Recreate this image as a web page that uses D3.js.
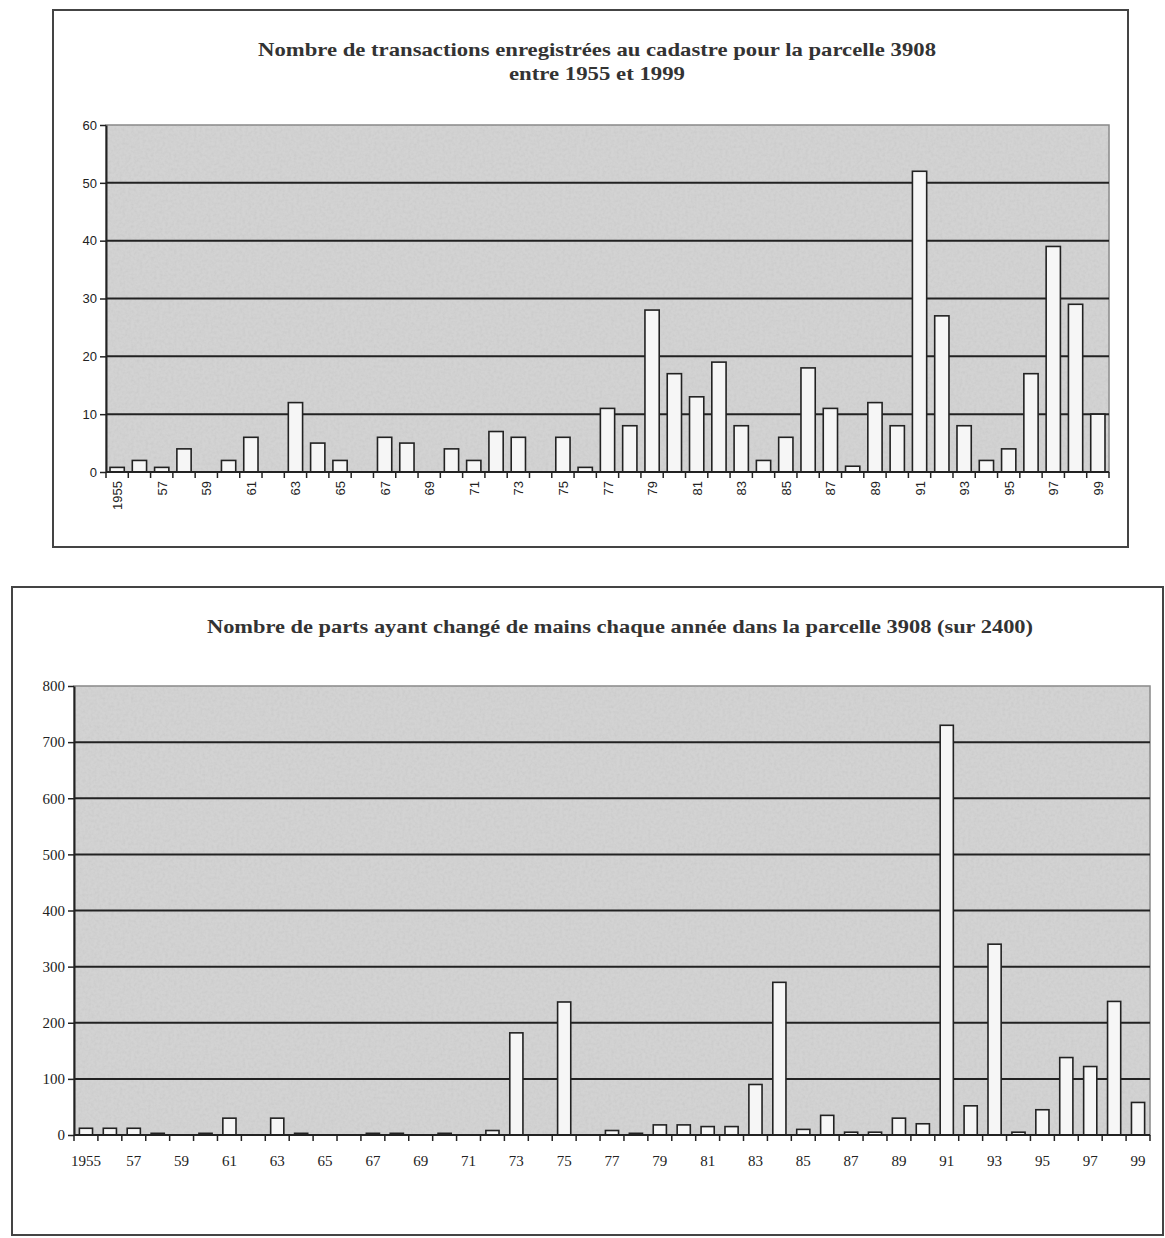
<!DOCTYPE html>
<html>
<head>
<meta charset="utf-8">
<script src="https://cdn.jsdelivr.net/npm/d3@7"></script>
<style>
  body { margin: 0; background: #fff; }
  svg { display: block; }
</style>
</head>
<body>
<div id="chart"></div>
<script>
// years 1955 .. 1999
const years = [1955,1956,1957,1958,1959,1960,1961,1962,1963,1964,1965,1966,1967,1968,1969,
  1970,1971,1972,1973,1974,1975,1976,1977,1978,1979,1980,1981,1982,1983,1984,
  1985,1986,1987,1988,1989,1990,1991,1992,1993,1994,1995,1996,1997,1998,1999];

// nombre de transactions
const transactions = [0.8,2,0.8,4,0,2,6,0,12,5,2,0,6,5,0,
  4,2,7,6,0,6,0.8,11,8,28,17,13,19,8,2,
  6,18,11,1,12,8,52,27,8,2,4,17,39,29,10];

// nombre de parts
const parts = [12,12,12,3,0,3,30,0,30,3,0,0,3,3,0,
  3,0,8,182,0,237,0,8,3,18,18,15,15,90,272,
  10,35,5,5,30,20,730,52,340,5,45,138,122,238,58];

const yTicksTop = [0,10,20,30,40,50,60];
const yTicksBottom = [0,100,200,300,400,500,600,700,800];
const labelYearsTop = ["1955","57","59","61","63","65","67","69","71","73","75","77","79","81","83","85","87","89","91","93","95","97","99"];
const labelYearsBottom = ["1955","57","59","61","63","65","67","69","71","73","75","77","79","81","83","85","87","89","91","93","95","97","99"];

const title1 = ["Nombre de transactions enregistrées au cadastre  pour la parcelle 3908", "entre 1955 et 1999"];
const title2 = "Nombre de parts ayant changé de mains chaque année dans la parcelle 3908 (sur 2400)";

const W = 1165, H = 1238;

const svg = d3.select("#chart").append("svg")
    .attr("width", W)
    .attr("height", H);

// scan-like grain for the plot areas
const defs = svg.append("defs");
const f = defs.append("filter").attr("id", "grain")
    .attr("x", 0).attr("y", 0).attr("width", "100%").attr("height", "100%");
f.append("feTurbulence").attr("type", "fractalNoise")
    .attr("baseFrequency", 0.35).attr("numOctaves", 2).attr("seed", 4);
f.append("feColorMatrix").attr("type", "matrix")
    .attr("values", "0 0 0 0 0.45  0 0 0 0 0.45  0 0 0 0 0.45  0 0 0 -1.1 0.72");

let drawChart = (opt) => {
    const g = svg.append("g");

    // frame
    g.append("rect")
        .attr("x", opt.frame[0]).attr("y", opt.frame[1])
        .attr("width", opt.frame[2]).attr("height", opt.frame[3])
        .attr("fill", "#fff")
        .attr("stroke", "#444")
        .attr("stroke-width", 2);

    const x = d3.scaleBand()
        .domain(years)
        .range([opt.left, opt.right])
        .paddingInner(opt.pad)
        .paddingOuter(opt.pad / 2);

    const y = d3.scaleLinear()
        .domain(opt.yDomain)
        .range([opt.bottom, opt.top]);

    // plot background
    g.append("rect")
        .attr("x", opt.left).attr("y", opt.top)
        .attr("width", opt.right - opt.left).attr("height", opt.bottom - opt.top)
        .attr("fill", "#d3d3d3")
        .attr("stroke", "#888")
        .attr("stroke-width", 1.5);
    g.append("rect")
        .attr("x", opt.left).attr("y", opt.top)
        .attr("width", opt.right - opt.left).attr("height", opt.bottom - opt.top)
        .attr("filter", "url(#grain)")
        .attr("opacity", 0.4);

    // gridlines
    g.selectAll(".grid")
        .data(opt.yTicks.slice(1, -1))
        .enter()
        .append("line")
        .attr("x1", opt.left).attr("x2", opt.right)
        .attr("y1", d => y(d)).attr("y2", d => y(d))
        .attr("stroke", "#222")
        .attr("stroke-width", 2);

    // bars
    g.selectAll(".bar")
        .data(opt.values)
        .enter()
        .append("rect")
        .attr("x", (d, i) => x(years[i]))
        .attr("y", d => y(d))
        .attr("width", x.bandwidth())
        .attr("height", d => opt.bottom - y(d))
        .attr("fill", d => d > 0 ? "#f6f6f6" : "none")
        .attr("stroke", d => d > 0 ? "#222" : "none")
        .attr("stroke-width", 1.6);

    // y axis
    const yAxis = d3.axisLeft(y).tickValues(opt.yTicks).tickSize(6).tickSizeOuter(0);
    const ya = g.append("g")
        .attr("transform", "translate(" + opt.left + ",0)")
        .call(yAxis);
    ya.select(".domain").attr("stroke", "#222").attr("stroke-width", 2);
    ya.selectAll(".tick line").attr("stroke", "#222").attr("stroke-width", 1.5);
    ya.selectAll(".tick text")
        .attr("x", -9)
        .style("font-family", opt.font)
        .style("font-size", opt.fontSize + "px")
        .attr("fill", "#222");

    // x axis line
    g.append("line")
        .attr("x1", opt.left).attr("x2", opt.right)
        .attr("y1", opt.bottom).attr("y2", opt.bottom)
        .attr("stroke", "#222").attr("stroke-width", 2);

    // category boundary ticks
    const step = x.step();
    const edges = years.map(yr => x(yr) - step * opt.pad / 2).concat([opt.right]);
    g.selectAll(".xt")
        .data(edges)
        .enter()
        .append("line")
        .attr("x1", d => d).attr("x2", d => d)
        .attr("y1", opt.bottom).attr("y2", opt.bottom + 6)
        .attr("stroke", "#222").attr("stroke-width", 1.5);

    // x labels, every second year
    const lab = g.selectAll(".xl")
        .data(opt.labels)
        .enter()
        .append("text")
        .style("font-family", opt.font)
        .style("font-size", opt.fontSize + "px")
        .attr("fill", "#222")
        .text(d => d);
    if (opt.rotate) {
        lab.attr("transform", (d, i) => {
                const cx = x(years[i * 2]) + x.bandwidth() / 2;
                return "translate(" + (cx + 5) + "," + (opt.bottom + 9) + ") rotate(-90)";
            })
            .attr("text-anchor", "end");
    } else {
        lab.attr("x", (d, i) => x(years[i * 2]) + x.bandwidth() / 2)
            .attr("y", opt.bottom + 31)
            .attr("text-anchor", "middle");
    }

    // title
    opt.title.forEach((t, i) => {
        g.append("text")
            .attr("x", opt.titleX)
            .attr("y", opt.titleY + i * 24)
            .attr("text-anchor", "middle")
            .attr("textLength", opt.titleLen[i])
            .attr("lengthAdjust", "spacingAndGlyphs")
            .style("font-family", "'Liberation Serif', 'DejaVu Serif', serif")
            .style("font-weight", "bold")
            .style("font-size", "19px")
            .attr("fill", "#333")
            .text(t);
    });
};

drawChart({
    frame: [53, 10, 1075, 537],
    left: 106, right: 1109, top: 125, bottom: 472,
    pad: 0.36,
    yDomain: [0, 60], yTicks: yTicksTop,
    values: transactions,
    labels: labelYearsTop,
    rotate: true,
    font: "'Liberation Sans', Arial, sans-serif",
    fontSize: 13,
    title: title1,
    titleX: 597, titleY: 56, titleLen: [678, 176]
});

drawChart({
    frame: [12, 587, 1151, 648],
    left: 74, right: 1150, top: 686, bottom: 1135,
    pad: 0.45,
    yDomain: [0, 800], yTicks: yTicksBottom,
    values: parts,
    labels: labelYearsBottom,
    rotate: false,
    font: "'Liberation Serif', 'Times New Roman', serif",
    fontSize: 15,
    title: [title2],
    titleX: 620, titleY: 633, titleLen: [826]
});
</script>
</body>
</html>
